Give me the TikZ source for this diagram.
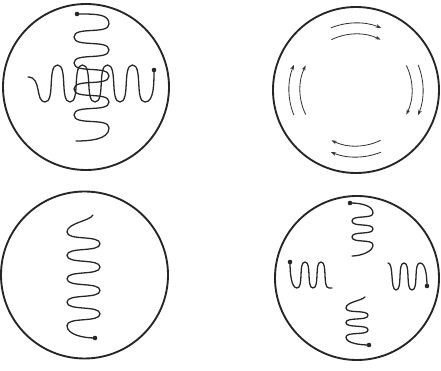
\documentclass[tikz,border=0pt]{standalone}
\usepackage{tikz}
\usetikzlibrary{arrows.meta,calc}

\begin{document}
\begin{tikzpicture}[
      x=0.03cm, y=-0.03cm,
      dish/.style={draw=black!85, line width=1.6pt},
      chain/.style={draw=black!85, line width=1.1pt, line cap=round, line join=round},
      flow/.style={draw=black!80, line width=0.7pt, -{Stealth[length=4.5pt, width=3.2pt]}},
      bead/.style={fill=black!85}
    ]
      \useasboundingbox (0,0) rectangle (441,371);

      \coordinate (tl) at (86,87);
      \coordinate (tr) at (356,90);
      \coordinate (bl) at (84.5,275);
      \coordinate (br) at (357,278);

      \draw[dish] (tl) circle[radius=83];
      \draw[dish] (tr) circle[radius=83];
      \draw[dish] (bl) circle[radius=83.5];
      \draw[dish] (br) circle[radius=82];

      % crossed chains
      \draw[chain] (77,14) .. controls +(20,0) and +(0,-10) .. (109,24)
        \foreach \i in {1,...,8} { .. controls +(0,11) and +(0,-11) .. ({91.5+17.5*cos(180*\i)},{24+13*\i}) }
        .. controls +(0,12) and +(12,0) .. (76,141);
      \fill[bead] (77,14) circle[radius=2.3];
      \draw[chain] (28,77) .. controls +(14,0) and +(-10,0) .. (45,102)
        \foreach \i in {1,...,8} { .. controls +(10.5,0) and +(-10.5,0) .. ({45+12.5*\i},{83.5+18.5*cos(180*\i)}) }
        .. controls +(9,0) and +(0,14) .. (154,70);
      \fill[bead] (154,70) circle[radius=2.3];

      % rotating flow
      \foreach \c in {270,0,90,180} {
        \draw[flow] ($(tr)+(\c-22:67)$) arc[start angle=\c-22, end angle=\c+22, radius=67];
        \draw[flow] ($(tr)+(\c-26:56)$) arc[start angle=\c-26, end angle=\c+26, radius=56];
      }

      % single chain
      \draw[chain] (93,215) .. controls +(-3,6) and +(0,-9) .. (67,232)
        \foreach \i in {1,...,8} { .. controls +(0,9) and +(0,-9) .. ({83.5-16.5*cos(180*\i)},{232+11.7*\i}) }
        .. controls +(0,9) and +(-12,0) .. (95,338);
      \fill[bead] (95,338) circle[radius=2.3];

      % four short chains
      \draw[chain] (350,203) .. controls +(12,0) and +(0,-7) .. (373,213)
        \foreach \i in {1,...,4} { .. controls +(0,6.5) and +(0,-6.5) .. ({362.5+10.5*cos(180*\i)},{213+8*\i}) }
        .. controls +(0,7) and +(8,0) .. (352,256);
      \fill[bead] (350,203) circle[radius=2.3];
      \draw[chain] (365,297) .. controls +(-4,4) and +(0,-6) .. (346,308)
        \foreach \i in {1,...,4} { .. controls +(0,6) and +(0,-6) .. ({357-11*cos(180*\i)},{308+7.3*\i}) }
        .. controls +(0,6) and +(-9,0) .. (369,345);
      \fill[bead] (369,345) circle[radius=2.3];
      \draw[chain] (388,263) .. controls +(6,0) and +(-6,0) .. (396,290)
        \foreach \i in {1,...,3} { .. controls +(7,0) and +(-7,0) .. ({396+8*\i},{276.5+13.5*cos(180*\i)}) }
        .. controls +(6,0) and +(0,-8) .. (427,286);
      \fill[bead] (427,286) circle[radius=2.3];
      \draw[chain] (290,262) .. controls +(0,10) and +(-6,0) .. (297,288)
        \foreach \i in {1,...,4} { .. controls +(7,0) and +(-7,0) .. ({297+8*\i},{275+13*cos(180*\i)}) }
        -- ++(3,0);
      \fill[bead] (290,262) circle[radius=2.3];
\end{tikzpicture}
\end{document}
